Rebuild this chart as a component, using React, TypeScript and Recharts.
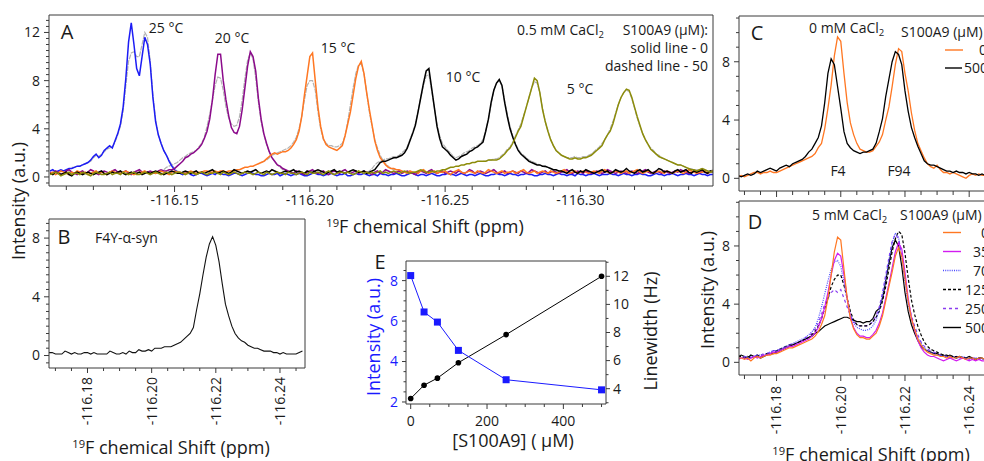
import React from "react";
import { LineChart, Line, XAxis, YAxis } from "recharts";

const FONT = "'Open Sans', 'Noto Sans', sans-serif";
const INK = "#1a1a1a";
const AXIS = "#3a3a3a";
const STEP = 0.001; // ppm between spectrum points

type Run = { at: number; v: number[] };

// ---------- Panel A: 0.5 mM CaCl2, temperature series ----------
// intensities in tenths of a.u.; grid index 0 = -116.104 ppm
const A_START = -116.104;

const a25: Run[] = [
  { at: 0, v: [5,6,4,5,6,5,6,7,7,8, 9,9,10,11,12,14,17,19,16,18, 22,24,26,24,30,36,44,58,82,112, 128,110,90,84,100,116,110,94,66,46, 35,28,22,18,13,9,6,4] },
  { at: 48, v: [
    3,2,3,4,2,1,2,3,3,2, 1,2,3,2,4,3,2,2,1,2, 3,3,2,1,2,3,4,3,2,2, 1,1,2,3,2,2,3,1,2,3,
    2,1,2,2,3,2,1,1,2,3, 3,2,2,1,2,2,3,2,1,2, 2,3,1,1,2,3,2,2,3,2, 1,2,2,1,3,2,2,1,2,2,
    3,2,1,1,2,3,3,2,1,2, 2,1,2,3,2,1,1,2,2,3, 2,2,1,2,3,2,1,2,2,1, 2,3,2,1,1,2,2,3,2,2,
    1,2,3,2,2,1,2,2,3,2, 2,1,1,2,2,3,2,2,1,2, 3,2,2,1,2,2,1,3,2,2, 1,2,2,3,2,1,2,2,2,3,
    2,2,1,2,3,2,2,1,2,2, 3,2,2,1,1,2,3,2,2,1, 2,2,3,2,1,2,2,3,2,2, 1,2,3,2,2,1,2,2] },
];
const a25Gray: Run[] = [
  { at: 8, v: [8,8,9,9,10,11,12,13,16,18, 17,19,21,23,24,25,29,35,42,55, 76,96,103,104,100,100,110,120,116,96, 68,48,35,28,22,18,14,10,7,5, 4,3,4,3,2] },
];

const a20: Run[] = [
  { at: 0, v: [4,3,5,4,2,3,5,6,4,3, 2,4,5,3,4,6,5,3,2,4, 5,4,3,5,6,4,3,4,5,3, 2,4,5,6,4,3,4,5,4,3, 5,6,5,5,6] },
  { at: 45, v: [6,7,9,11,13,16,17,19,20,22, 24,27,32,38,48,64,85,102,102,80, 64,51,41,37,36,42,56,74,92,104, 100,88,65,48,36,28,21,16,13,10, 9,7,6,5] },
  { at: 89, v: [
    4,3,5,4,3,2,4,5,6,4, 3,4,5,3,2,4,5,4,3,5, 6,4,3,4,5,3,4,5,4,3, 2,4,5,3,4,6,5,4,3,4,
    5,3,4,5,4,3,2,4,5,4, 3,5,6,4,3,4,5,3,4,5, 4,3,5,4,3,4,6,5,3,4, 5,4,3,4,5,6,4,3,4,5,
    3,4,5,4,3,5,4,3,4,6, 5,4,3,4,5,3,4,5,4,3, 4,5,6,4,3,4,5,4,3,5, 4,3,4,5,4,3,4,6,5,4,
    3,4,5,4,3,4,5,4,3,4, 5,6,4,3,4,5,4,3,5,4, 3,4,5,4,6,5,4,3,4,5, 4,3,5,4,3,4,5] },
];
const a20Gray: Run[] = [
  { at: 40, v: [4,5,6,8,9,10,11,12,14,16, 17,19,20,21,22,25,28,33,42,52, 64,76,83,82,72,58,49,44,42,43, 50,64,82,97,103,98,82,62,46,35, 27,21,16,13,10,8,6,5,4,4, 3] },
];

const a15: Run[] = [
  { at: 0, v: [3,4,2,3,5,4,3,2,4,3, 5,4,3,4,2,3,4,5,3,4, 3,2,4,5,4,3,3,4,5,4, 3,2,3,4,4,5,3,3,4,3, 4,5,4,3,2,4,5,4,4,3, 3,4,5,4,3,4,4,5,5,4, 4,5,4,5,5,4,5] },
  { at: 67, v: [5,5,6,6,7,8,8,9,9,10, 11,12,13,15,17,19,20,19,20,21, 21,22,24,27,31,38,50,68,84,100, 103,80,58,42,32,27,25,24,23,22, 24,26,34,44,54,68,82,92,96,86, 70,56,43,30,22,16,13,10,8,7, 7,6,6,5] },
  { at: 131, v: [
    4,3,5,4,4,3,5,6,4,3, 4,5,3,4,4,5,3,2,4,5, 6,4,3,4,5,4,3,5,4,3, 4,6,5,4,3,4,5,3,4,4,
    5,3,4,5,6,4,3,4,5,3, 4,5,4,3,5,4,3,4,5,6, 4,3,4,5,3,4,5,4,3,4, 5,4,3,5,6,4,3,4,5,4,
    3,4,5,3,4,5,6,4,3,4, 5,4,3,4,5,4,3,5,4,3, 4,5,4,3,4,6,5,4,3,4, 4,5,3,4,5] },
];
const a15Gray: Run[] = [
  { at: 78, v: [12,13,14,16,18,19,20,21,22,23, 24,26,29,33,40,50,64,76,80,80, 72,54,40,31,28,26,26,25,25,26, 28,34,46,60,74,86,93,94,86,70, 54,42,31,24,18,14,11,9,7,6, 6,5,5,4,4] },
];

const a10: Run[] = [
  { at: 0, v: [
    3,2,4,3,2,3,4,2,1,3, 4,3,2,3,4,3,2,3,4,5, 3,2,3,4,3,4,5,3,2,3, 4,3,3,4,2,3,4,3,4,5,
    4,3,2,3,4,5,4,3,3,4, 5,4,3,4,5,3,4,3,4,5, 6,4,3,4,5,4,3,4,6,5, 4,3,4,5,4,5,6,4,3,4,
    5,4,6,5,4,3,4,5,4,5, 6,4,5,4,3,5,4,4,5,6, 5,4,3,4,5,6,4,5,4,3, 4,5,6,5,4,4,5,3,4] },
  { at: 119, v: [5,6,9,12,13,13,14,15,16,16, 17,18,20,24,30,36,43,54,66,78, 88,90,74,58,42,32,25,23,21,18, 16,14,15,17,18,19,21,22,24,25, 27,29,38,48,62,72,78,81,76,62, 50,40,33,27,22,19,17,15,13,12, 11,10,10,9,9,8,7,6,6,5] },
  { at: 189, v: [5,4,3,5,6,4,3,5,4,6, 5,4,3,4,5,6,4,5,3,4, 6,5,4,5,7,5,4,3,5,6, 4,5,6,4,3,5,7,6,4,5, 4,3,5,6,4,5,6,4,3,5, 4,5,6,4,3,5,4] },
];
const a10Gray: Run[] = [
  { at: 117, v: [4,5,7,10,12,13,14,15,15,16, 17,17,18,20,22,25,31,37,44,55, 66,76,84,85,72,58,44,34,28,25, 22,20,17,16,17,18,20,21,22,24, 25,26,28,31,38,48,60,72,78,80, 76,63,52,42,34,28,23,20,18,16, 14,13,12,11,10,9,8,8,7,6, 5,5,4,4] },
];

const a5: Run[] = [
  { at: 0, v: [
    2,3,4,3,1,2,3,4,2,3, 3,2,4,3,2,1,3,4,3,2, 2,3,4,2,3,3,2,4,3,2, 3,4,2,2,3,4,3,2,3,4,
    3,2,3,4,3,2,3,4,4,3, 2,3,4,3,2,3,4,3,2,3, 3,4,3,2,4,3,2,3,4,3, 2,3,4,3,3,2,3,4,3,2,
    4,3,2,3,4,3,3,2,4,3, 3,2,3,4,3,2,4,3,3,4, 3,2,4,5,3,2,3,4,4,3, 4,3,2,3,5,4,3,4,3,4,
    3,4,5,3,4,3,4,5,4,3, 4,5,4,3,4,4,5,6,5,4, 4,5,4,5] },
  { at: 144, v: [5,6,6,7,8,8,9,9,10,10, 11,11,12,12,13,13,13,13,14,14, 14,14,15,17,19,22,24,28,33,38, 42,50,58,66,74,82,80,70,56,46, 38,31,26,22,20,18,17,16,15,15, 16,15,15,16,16,17,18,20,22,24, 26,31,35,38,44,52,60,66,70,73, 72,66,58,50,43,36,31,27,23,21, 19,17,16,15,14,13,12,11,10,10, 9,8,7,6,6,5,6,7,6,5, 4,5] },
];
const a5Gray: Run[] = [
  { at: 160, v: [13,13,14,14,15,15,16,18,20,23, 25,29,34,39,44,51,58,66,74,79, 78,70,57,46,38,31,26,22,20,18, 17,16,16,16,17,16,16,17,17,18, 19,21,23,25,28,31,35,40,46,53, 60,66,70,72,71,65,57,49,42,36, 31,27,24,22,19,18,16,15,14,13, 12,11,10,10,9,8,7,7,6,6, 6,7,6,5,5,6] },
];

// ---------- Panels B-D: grid index 0 = -116.168 ppm ----------
const BCD_START = -116.168;

const bF4Y = [2,2,1,1,1,3,2,1,2,1, 1,2,2,1,2,1,1,1,1,3, 2,1,1,2,1,3,2,2,4,3, 3,4,3,5,5,5,6,6,6,7, 8,9,11,13,15,19,31,42,55,67, 76,81,75,64,49,35,27,20,15,12, 10,9,7,6,5,5,4,3,3,3, 2,2,1,2,1,1,1,1,2,3];

const c0 = [1,2,1,2,3,4,4,3,4,4, 5,4,4,5,6,7,8,9,10,11, 12,13,14,15,17,21,24,34,48,64, 84,97,94,72,52,38,30,24,20,19, 18,18,19,22,25,30,40,49,63,78, 89,87,72,60,45,33,24,19,14,10, 8,7,9,6,4,4,3,4,3,2, 1,0,2,3,2,3,2,2,3,2];
const c500 = [2,1,2,3,2,3,5,4,5,6, 7,6,5,7,8,9,8,10,11,12, 13,15,18,20,24,28,36,52,72,82, 78,63,48,32,24,21,19,18,17,18, 18,19,20,24,32,41,56,68,80,87, 85,78,60,46,35,28,22,17,12,10, 9,9,8,7,6,5,5,4,5,4, 4,3,4,3,3,2,3,2,2,3];

const d0 = [3,3,2,3,1,3,4,3,4,5, 5,6,6,7,8,9,10,10,11,12, 13,14,15,16,18,21,26,32,44,60, 76,86,84,64,44,30,23,19,17,17, 16,16,18,20,25,32,42,52,62,73, 79,73,58,42,30,23,16,12,9,7, 6,5,5,4,4,3,4,3,3,4, 3,2,3,3,2,3,3,2,3,3];
const d35 = [2,3,3,2,3,4,3,4,5,5, 6,7,7,8,9,10,11,11,12,13, 14,15,16,18,20,24,30,38,48,60, 70,75,73,60,44,31,24,20,18,18, 17,17,19,22,27,34,44,54,65,76, 82,78,62,44,31,22,15,10,7,5, 4,4,3,2,1,2,3,2,1,2, 3,2,1,2,1,2,1,1,2,1];
const d70 = [3,3,4,3,4,4,5,5,5,6, 7,8,8,9,10,11,12,13,14,15, 16,17,19,21,24,30,38,47,56,64, 69,70,66,55,43,33,27,24,23,22, 22,23,25,29,36,46,58,70,82,89, 86,72,55,40,30,23,17,13,10,8, 7,6,5,5,4,4,3,4,3,3, 4,3,3,2,3,3,2,3,3,2];
const d125 = [4,4,3,4,3,4,5,4,5,6, 6,7,8,9,10,11,12,12,13,14, 15,16,17,19,21,25,30,37,44,52, 57,60,60,53,44,35,29,26,25,25, 25,26,28,31,35,42,52,64,76,85, 90,88,75,58,43,33,25,19,14,11, 9,8,7,6,5,5,4,4,4,3, 4,3,3,3,2,3,3,2,3,3];
const d250 = [3,3,4,4,3,4,5,5,6,6, 7,8,8,9,10,11,12,13,13,14, 15,17,18,20,23,27,33,40,44,48, 50,48,50,44,38,32,28,26,25,25, 25,26,28,32,38,48,60,72,83,88, 85,74,57,42,32,25,19,14,11,9, 8,7,6,5,5,4,4,3,4,3, 3,3,2,3,3,2,3,2,2,3];
const d500 = [4,5,4,3,5,4,4,3,4,5, 6,6,7,8,9,10,11,12,13,14, 15,16,17,18,20,21,23,25,26,27, 28,29,30,31,31,30,29,28,28,27, 28,28,30,35,37,44,56,68,79,84, 80,66,48,35,26,20,15,11,9,8, 7,6,6,5,5,4,5,4,3,4, 3,3,4,3,2,3,3,2,3,2];

// ---------- Panel E: F4 peak vs S100A9 ----------
const s100a9Conc = [0, 35, 70, 125, 250, 500];
const f4Intensity = [8.25, 6.45, 5.95, 4.55, 3.1, 2.6];
const f4Linewidth = [3.3, 4.25, 4.75, 5.85, 7.85, 12.0];

// ---------- helpers ----------
const toPts = (start: number, runs: Run[]) =>
  runs.flatMap((r) =>
    r.v.map((v, k) => ({ ppm: +(start - (r.at + k) * STEP).toFixed(4), y: v / 10 }))
  );
const one = (v: number[]): Run[] => [{ at: 0, v }];

const range = (a: number, b: number, s: number) =>
  Array.from({ length: Math.round((b - a) / s) + 1 }, (_, k) => +(a + k * s).toFixed(4));

type TickCfg = {
  side: "bottom" | "left" | "right";
  majors: number[];
  long?: number;
  short?: number;
  gap?: number;
  labels?: boolean;
  rotate?: boolean;
  color?: string;
  size?: number;
  fmt?: (v: number) => string;
};

// draws major/minor tick marks and labels for the majors
function tickRenderer(cfg: TickCfg) {
  const {
    side, majors, long = 5, short = 3, gap = 4, labels = true,
    rotate = false, color = INK, size = 14, fmt = (v: number) => String(v),
  } = cfg;
  return (props: any) => {
    const { x, y, payload } = props;
    const v = payload.value as number;
    const major = majors.some((m) => Math.abs(m - v) < 1e-7);
    const len = major ? long : short;
    const show = labels && major;
    const txt = { fontFamily: FONT, fontSize: size, fill: color };
    if (side === "bottom") {
      const ty = y + len + gap;
      return (
        <g>
          <line x1={x} y1={y} x2={x} y2={y + len} stroke={AXIS} />
          {show &&
            (rotate ? (
              <text x={x} y={ty} transform={`rotate(-90 ${x} ${ty})`} textAnchor="end" dy="0.35em" style={txt}>
                {fmt(v)}
              </text>
            ) : (
              <text x={x} y={ty} textAnchor="middle" dy="0.71em" style={txt}>
                {fmt(v)}
              </text>
            ))}
        </g>
      );
    }
    const dir = side === "left" ? -1 : 1;
    return (
      <g>
        <line x1={x} y1={y} x2={x + dir * len} y2={y} stroke={AXIS} />
        {show && (
          <text x={x + dir * (len + gap)} y={y} textAnchor={side === "left" ? "end" : "start"} dy="0.35em" style={txt}>
            {fmt(v)}
          </text>
        )}
      </g>
    );
  };
}

const ppmFmt = (v: number) => v.toFixed(2);
// axes are 1px thick (a zero-size axis is not drawn); margins below account for it
const axisBase = { tickSize: 0, tickMargin: 0, tickLine: false, interval: 0 as const, axisLine: { stroke: AXIS } };

// top and right edges of a plot box
const frame = [
  <XAxis key="ft" xAxisId="top" orientation="top" type="number" domain={[0, 1]} height={1} tick={false} tickLine={false} axisLine={{ stroke: AXIS }} />,
  <YAxis key="fr" yAxisId="right" orientation="right" type="number" domain={[0, 1]} width={1} tick={false} tickLine={false} axisLine={{ stroke: AXIS }} />,
];

type Trace = { key: string; pts: { ppm: number; y: number }[]; color: string; width: number; dash?: string };

const traceLines = (traces: Trace[]) =>
  traces.map((t) => (
    <Line
      key={t.key}
      data={t.pts}
      dataKey="y"
      type="linear"
      dot={false}
      stroke={t.color}
      strokeWidth={t.width}
      strokeDasharray={t.dash}
      isAnimationActive={false}
    />
  ));

const GRAY = "#b3b3b3";
const traceA: Trace[] = [
  { key: "g25", pts: toPts(A_START, a25Gray), color: GRAY, width: 1.2, dash: "5 1" },
  { key: "g20", pts: toPts(A_START, a20Gray), color: GRAY, width: 1.2, dash: "5 1" },
  { key: "g15", pts: toPts(A_START, a15Gray), color: GRAY, width: 1.2, dash: "5 1" },
  { key: "g10", pts: toPts(A_START, a10Gray), color: GRAY, width: 1.2, dash: "5 1" },
  { key: "g5", pts: toPts(A_START, a5Gray), color: GRAY, width: 1.2, dash: "5 1" },
  { key: "t25", pts: toPts(A_START, a25), color: "#1c1cf5", width: 1.5 },
  { key: "t20", pts: toPts(A_START, a20), color: "#8b0a8b", width: 1.5 },
  { key: "t15", pts: toPts(A_START, a15), color: "#ff7722", width: 1.5 },
  { key: "t10", pts: toPts(A_START, a10), color: "#000000", width: 1.5 },
  { key: "t5", pts: toPts(A_START, a5), color: "#8c8c0a", width: 1.5 },
];

const traceB: Trace[] = [{ key: "b", pts: toPts(BCD_START, one(bF4Y)), color: "#111", width: 1.1 }];

const traceC: Trace[] = [
  { key: "c0", pts: toPts(BCD_START, one(c0)), color: "#ff7722", width: 1.3 },
  { key: "c500", pts: toPts(BCD_START, one(c500)), color: "#000", width: 1.3 },
];

const dSeries = [
  { key: "d500", vals: d500, color: "#000", dash: undefined, label: "500" },
  { key: "d250", vals: d250, color: "#8a3cf0", dash: "3 3", label: "250" },
  { key: "d125", vals: d125, color: "#000", dash: "3 2", label: "125" },
  { key: "d70", vals: d70, color: "#4a4aff", dash: "1 1.2", label: "70" },
  { key: "d35", vals: d35, color: "#d21cf0", dash: undefined, label: "35" },
  { key: "d0", vals: d0, color: "#ff7722", dash: undefined, label: "0" },
];
const traceD: Trace[] = dSeries.map((s) => ({
  key: s.key,
  pts: toPts(BCD_START, one(s.vals)),
  color: s.color,
  width: 1.2,
  dash: s.dash,
}));

const eRows = s100a9Conc.map((c, k) => ({ c, inten: f4Intensity[k], lw: f4Linewidth[k] }));

const BLUE = "#1a1aff";

const SquareDot = (p: any) => (
  <rect key={`sq${p.index}`} x={p.cx - 3.5} y={p.cy - 3.5} width={7} height={7} fill={BLUE} />
);

// ---------- text overlay ----------
type TxtProps = {
  x: number;
  y: number;
  children: React.ReactNode;
  size?: number;
  color?: string;
  align?: "left" | "center" | "right";
  rotate?: boolean;
};
function Txt({ x, y, children, size = 14, color = INK, align = "center", rotate = false }: TxtProps) {
  const tx = align === "left" ? "0" : align === "right" ? "-100%" : "-50%";
  return (
    <div
      style={{
        position: "absolute",
        left: x,
        top: y,
        transform: `translate(${tx}, -50%)${rotate ? " rotate(-90deg)" : ""}`,
        fontSize: size,
        color,
        whiteSpace: "nowrap",
        lineHeight: 1,
        fontFamily: FONT,
      }}
    >
      {children}
    </div>
  );
}
const Sub = ({ children }: { children: React.ReactNode }) => (
  <span style={{ fontSize: "0.68em", verticalAlign: "-0.3em", lineHeight: 0 }}>{children}</span>
);
const Sup = ({ children }: { children: React.ReactNode }) => (
  <span style={{ fontSize: "0.62em", verticalAlign: "0.55em", lineHeight: 0 }}>{children}</span>
);
const ShiftTitle = () => (
  <>
    <Sup>19</Sup>F chemical Shift (ppm)
  </>
);

const A_X: [number, number] = [-116.349, -116.1036];
const A_Y: [number, number] = [-0.75, 13.45];
const B_X: [number, number] = [-116.2478, -116.168];
const B_Y: [number, number] = [-0.85, 9.3];
const CD_X: [number, number] = [-116.2496, -116.1683];
const C_Y: [number, number] = [-0.87, 11.14];
const D_Y: [number, number] = [-0.87, 11.09];

const ppmMajors = [-116.18, -116.2, -116.22, -116.24];

export default function App() {
  return (
    <div
      style={{
        position: "absolute",
        left: 0,
        top: 0,
        width: 984,
        height: 461,
        overflow: "hidden",
        background: "#fff",
        fontFamily: FONT,
      }}
    >
      {/* A: temperature series */}
      <div style={{ position: "absolute", left: 0, top: 0 }}>
        <LineChart width={720} height={215} margin={{ top: 14, right: 6, bottom: 28, left: 48 }}>
          <XAxis
            dataKey="ppm" type="number" domain={A_X} reversed allowDataOverflow height={1}
            ticks={range(-116.11, -116.34, -0.01)} {...axisBase}
            tick={tickRenderer({ side: "bottom", majors: [-116.15, -116.2, -116.25, -116.3], long: 6, short: 4, gap: 3, fmt: ppmFmt })}
          />
          <YAxis
            type="number" domain={A_Y} allowDataOverflow width={1}
            ticks={range(-0.5, 13, 0.5)} {...axisBase}
            tick={tickRenderer({ side: "left", majors: [0, 4, 8, 12], long: 5, short: 3, gap: 4 })}
          />
          {frame}
          {traceLines(traceA)}
        </LineChart>
      </div>

      {/* B: F4Y-α-syn */}
      <div style={{ position: "absolute", left: 0, top: 200 }}>
        <LineChart width={320} height={250} margin={{ top: 18, right: 14, bottom: 81, left: 48 }}>
          <XAxis
            dataKey="ppm" type="number" domain={B_X} reversed allowDataOverflow height={1}
            ticks={range(-116.17, -116.245, -0.005)} {...axisBase}
            tick={tickRenderer({ side: "bottom", majors: ppmMajors, long: 5, short: 3, gap: 4, rotate: true, fmt: ppmFmt })}
          />
          <YAxis
            type="number" domain={B_Y} allowDataOverflow width={1}
            ticks={range(-0.5, 9, 0.5)} {...axisBase}
            tick={tickRenderer({ side: "left", majors: [0, 4, 8], long: 5, short: 3, gap: 4 })}
          />
          {frame}
          {traceLines(traceB)}
        </LineChart>
      </div>

      {/* C: 0 mM CaCl2 */}
      <div style={{ position: "absolute", left: 690, top: 0 }}>
        <LineChart width={330} height={200} margin={{ top: 15, right: 19, bottom: 8, left: 48 }}>
          <XAxis
            dataKey="ppm" type="number" domain={CD_X} reversed allowDataOverflow height={1}
            ticks={range(-116.17, -116.245, -0.005)} {...axisBase}
            tick={tickRenderer({ side: "bottom", majors: ppmMajors, long: 6, short: 4, labels: false })}
          />
          <YAxis
            type="number" domain={C_Y} allowDataOverflow width={1}
            ticks={range(0, 11, 1)} {...axisBase}
            tick={tickRenderer({ side: "left", majors: [0, 4, 8], long: 5, short: 3, gap: 4 })}
          />
          {frame}
          {traceLines(traceC)}
        </LineChart>
      </div>

      {/* D: 5 mM CaCl2 titration */}
      <div style={{ position: "absolute", left: 690, top: 190 }}>
        <LineChart width={330} height={271} margin={{ top: 10, right: 19, bottom: 85, left: 48 }}>
          <XAxis
            dataKey="ppm" type="number" domain={CD_X} reversed allowDataOverflow height={1}
            ticks={range(-116.17, -116.245, -0.005)} {...axisBase}
            tick={tickRenderer({ side: "bottom", majors: ppmMajors, long: 6, short: 4, gap: 5, rotate: true, fmt: ppmFmt })}
          />
          <YAxis
            type="number" domain={D_Y} allowDataOverflow width={1}
            ticks={range(0, 11, 1)} {...axisBase}
            tick={tickRenderer({ side: "left", majors: [0, 4, 8], long: 5, short: 3, gap: 4 })}
          />
          {frame}
          {traceLines(traceD)}
        </LineChart>
      </div>

      {/* E: intensity and linewidth vs S100A9 */}
      <div style={{ position: "absolute", left: 330, top: 240 }}>
        <LineChart data={eRows} width={330} height={200} margin={{ top: 20, right: 53, bottom: 35, left: 75 }}>
          <XAxis
            dataKey="c" type="number" domain={[-12.3, 511.7]} allowDataOverflow height={1}
            ticks={range(0, 500, 50)} {...axisBase}
            tick={tickRenderer({ side: "bottom", majors: [0, 200, 400], long: 5, short: 3, gap: 7 })}
          />
          <XAxis xAxisId="top" orientation="top" type="number" domain={[0, 1]} height={1} tick={false} tickLine={false} axisLine={{ stroke: AXIS }} />
          <YAxis
            yAxisId="l" type="number" domain={[1.9, 8.97]} allowDataOverflow width={1}
            ticks={range(2, 8.5, 0.5)} {...axisBase}
            tick={tickRenderer({ side: "left", majors: [2, 4, 6, 8], long: 4, short: 2.5, gap: 4, color: BLUE })}
          />
          <YAxis
            yAxisId="r" orientation="right" type="number" domain={[2.91, 13.09]} allowDataOverflow width={1}
            ticks={range(3, 13, 1)} {...axisBase}
            tick={tickRenderer({ side: "right", majors: [4, 6, 8, 10, 12], long: 4, short: 2.5, gap: 3 })}
          />
          <Line yAxisId="r" dataKey="lw" type="linear" stroke="#000" strokeWidth={1}
            dot={{ r: 2.8, fill: "#000", stroke: "#000", strokeWidth: 0 }} isAnimationActive={false} />
          <Line yAxisId="l" dataKey="inten" type="linear" stroke={BLUE} strokeWidth={1}
            dot={SquareDot} isAnimationActive={false} />
        </LineChart>
      </div>

      {/* legend samples for C and D */}
      <svg style={{ position: "absolute", left: 0, top: 0 }} width={984} height={461}>
        <line x1={945} x2={963} y1={50} y2={50} stroke="#ff7722" strokeWidth={1.4} />
        <line x1={945} x2={962} y1={68} y2={68} stroke="#000" strokeWidth={1.4} />
        {dSeries
          .slice()
          .reverse()
          .map((s, k) => (
            <line key={s.key} x1={943} x2={961} y1={232.5 + k * 19} y2={232.5 + k * 19}
              stroke={s.color} strokeWidth={1.4} strokeDasharray={s.dash} />
          ))}
      </svg>

      {/* panel A text */}
      <Txt x={67} y={32} size={20}>A</Txt>
      <Txt x={166} y={28}>25 °C</Txt>
      <Txt x={232} y={38}>20 °C</Txt>
      <Txt x={338} y={48}>15 °C</Txt>
      <Txt x={463} y={77}>10 °C</Txt>
      <Txt x={580} y={89}>5 °C</Txt>
      <Txt x={517} y={30} align="left">0.5 mM CaCl<Sub>2</Sub></Txt>
      <Txt x={708} y={30} align="right">S100A9 (µM):</Txt>
      <Txt x={708} y={48} align="right">solid line - 0</Txt>
      <Txt x={708} y={66} align="right">dashed line - 50</Txt>
      <Txt x={425} y={226} size={18}><ShiftTitle /></Txt>
      <Txt x={18} y={201} size={18} rotate>Intensity (a.u.)</Txt>

      {/* panel B text */}
      <Txt x={64} y={237} size={20}>B</Txt>
      <Txt x={95} y={238} align="left">F4Y-α-syn</Txt>
      <Txt x={171} y={447} size={18}><ShiftTitle /></Txt>

      {/* panel C text */}
      <Txt x={757} y={33} size={20}>C</Txt>
      <Txt x={809} y={28} align="left">0 mM CaCl<Sub>2</Sub></Txt>
      <Txt x={901} y={32} align="left">S100A9 (µM)</Txt>
      <Txt x={979} y={50} align="left">0</Txt>
      <Txt x={964} y={68} align="left">500</Txt>
      <Txt x={838} y={171}>F4</Txt>
      <Txt x={899} y={171}>F94</Txt>

      {/* panel D text */}
      <Txt x={755} y={222} size={20}>D</Txt>
      <Txt x={812} y={215} align="left">5 mM CaCl<Sub>2</Sub></Txt>
      <Txt x={900} y={215} align="left">S100A9 (µM)</Txt>
      {dSeries
        .slice()
        .reverse()
        .map((s, k) => (
          <Txt key={s.key} x={989} y={232.5 + k * 19} align="right">{s.label}</Txt>
        ))}
      <Txt x={707} y={290} size={18} rotate>Intensity (a.u.)</Txt>
      <Txt x={871} y={454} size={18}><ShiftTitle /></Txt>

      {/* panel E text */}
      <Txt x={380} y={262} size={20}>E</Txt>
      <Txt x={373} y={337} size={18} color={BLUE} rotate>Intensity (a.u.)</Txt>
      <Txt x={650} y={331} size={18} rotate>Linewidth (Hz)</Txt>
      <Txt x={513} y={440} size={18}>[S100A9] ( µM)</Txt>
    </div>
  );
}
